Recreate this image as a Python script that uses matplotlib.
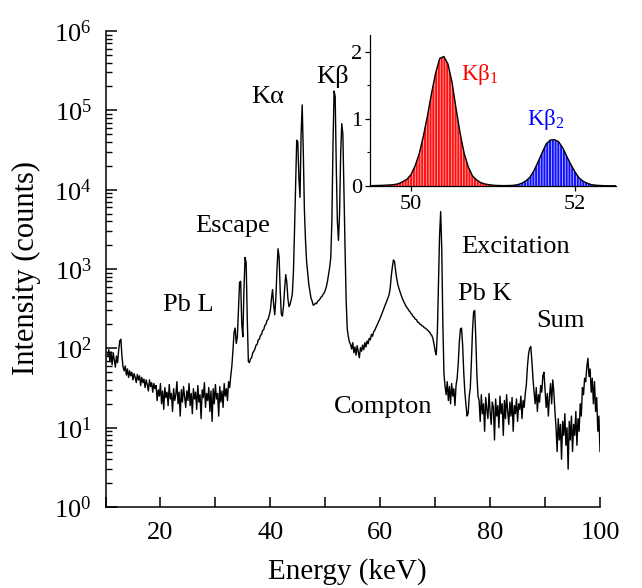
import numpy as np
import matplotlib
matplotlib.use("Agg")
import matplotlib.pyplot as plt
from matplotlib.ticker import LogLocator, FixedLocator, NullFormatter

# ---------------- data: main spectrum (0.2 keV grid from 10.4 keV) ----------------
E_START, E_STEP = 10.4, 0.2
counts_low = [82, 96, 68, 90, 62, 88, 72, 58, 80, 66,
              95, 125, 130, 78, 58, 52, 60, 46, 55, 43,
              52, 45, 50, 40, 48, 43, 37, 47, 40, 45,
              34, 43, 37, 41, 32, 40, 35, 29, 40, 33,
              37, 28, 36, 31]
counts_plateau = [34, 22, 30, 25, 36, 20, 29, 17, 32, 24,
                  28, 19, 35, 23, 27, 16, 31, 22, 26, 38,
                  20, 28, 14, 30, 21, 33, 24, 18, 29, 22,
                  36, 19, 27, 15, 31, 23, 28, 17, 34, 21,
                  26, 13, 30, 24, 37, 18, 27, 22, 32, 16,
                  29, 12, 31, 20, 35, 23, 27, 14, 33, 21,
                  29, 18, 36, 25, 31, 22, 38]
counts_escape = [32, 45, 60, 95, 160, 180, 115, 140, 320, 680,
                 700, 200, 140, 550, 1400, 1200, 240, 68]
counts_slope = [66, 74, 76, 88, 92, 98, 110, 112, 128, 130,
                146, 150, 168, 172, 195, 200, 225, 232, 262, 300]
counts_kalpha = [420, 550, 360, 265, 420, 950, 1800, 1400, 520, 270,
                 255, 340, 560, 850, 680, 420, 335, 360, 410, 480,
                 900, 3000, 12000, 42000, 40000, 14000, 8000, 50000, 117000, 30000,
                 5500, 2300, 1250, 880, 640, 520, 430, 395, 350]
counts_kbeta = [355, 370, 365, 390, 400, 415, 440, 450, 480, 500,
                540, 600, 700, 850, 1050, 1400, 4000, 35000, 175000, 150000,
                20000, 4000, 2300, 5000, 28000, 68000, 50000, 9000, 1800, 400,
                175, 140, 120]
counts_compton = [112, 98, 118, 88, 104, 82, 108, 90, 76, 102,
                  92, 110, 96, 118, 104, 124, 114, 134, 128, 150,
                  142, 162, 168, 182, 194, 208, 225, 240, 262, 285,
                  308, 338, 365, 395, 430, 470, 560, 800, 1050, 1300,
                  1250, 950, 760, 640, 570, 515, 470, 430, 398, 372,
                  350, 330, 318, 300, 290, 275, 266, 250, 246, 232,
                  230, 214, 212, 202, 200, 192, 190, 182, 180, 175,
                  170, 164, 160, 150, 145, 132, 112, 92, 83, 160,
                  650, 2600, 5300, 1800, 200, 48, 33]
counts_pbk = [26, 38, 22, 33, 20, 36, 25, 31, 19, 34,
              42, 65, 120, 175, 180, 110, 50, 28, 20, 14,
              15, 25, 32, 70, 170, 290, 300, 130, 45, 25]
counts_high = [22, 12, 26, 15, 20, 9, 24, 17, 13, 27,
               16, 11, 21, 18, 7, 23, 14, 19, 10, 25,
               15, 20, 8, 22, 13, 26, 16, 11, 21, 14,
               24, 9, 19, 15, 23, 12, 20, 17, 25, 13,
               22, 18, 27]
counts_sum = [35, 60, 85, 100, 105, 70, 42, 28, 20, 32,
              16, 26, 21, 34, 28, 45, 50, 30, 18, 27,
              14, 25, 36, 20, 40, 28, 16]
counts_tail = [10, 5, 13, 7, 11, 4, 12, 8, 15, 6,
               10, 3, 12, 7, 14, 5, 11, 8, 16, 6,
               13, 9, 20, 14, 32, 26, 42, 38, 58, 75,
               44, 55, 28, 42, 20, 38, 16, 24, 9, 14,
               5]

counts = np.array(counts_low + counts_plateau + counts_escape + counts_slope +
                  counts_kalpha + counts_kbeta + counts_compton + counts_pbk +
                  counts_high + counts_sum + counts_tail, dtype=float)
energy = np.round(E_START + E_STEP * np.arange(len(counts)), 2)

x_ticks = [20, 40, 60, 80, 100]
x_minor_ticks = [10, 30, 50, 70, 90]
y_ticks = [1e0, 1e1, 1e2, 1e3, 1e4, 1e5, 1e6]

# ---------------- data: inset (Kbeta1 / Kbeta2 profile) ----------------
inset_energy = np.round(49.5 + 0.05 * np.arange(61), 2)
inset_intensity = np.array([
    0.005, 0.006, 0.008, 0.010, 0.013, 0.016, 0.022, 0.035, 0.065, 0.10,
    0.17, 0.30, 0.48, 0.74, 1.04, 1.38, 1.68, 1.90, 1.93, 1.82,
    1.55, 1.15, 0.78, 0.48, 0.28, 0.15, 0.09, 0.05, 0.03, 0.02,
    0.012, 0.008, 0.006, 0.006, 0.007, 0.010, 0.020, 0.040, 0.075, 0.13,
    0.23, 0.36, 0.50, 0.63, 0.685, 0.69, 0.66, 0.57, 0.44, 0.32,
    0.21, 0.12, 0.07, 0.04, 0.02, 0.012, 0.008, 0.005, 0.004, 0.003,
    0.003])
split_energy = 51.15
inset_x_ticks = [50, 52]
inset_y_ticks = [0, 1, 2]
inset_y_minor = [0.5, 1.5]

peak_labels = ["Pb L", "Escape", "K\u03b1", "K\u03b2", "Excitation", "Pb K", "Sum", "Compton"]
peak_label_px = [(163, 310.7), (195, 232), (251.7, 102.7), (316.7, 83.3),
                 (461.7, 253.3), (458.3, 300), (536, 327), (334, 413)]

# ---------------- style ----------------
plt.rcParams.update({
    'font.family': ['Liberation Serif', 'DejaVu Serif'],
    'mathtext.fontset': 'custom',
    'mathtext.rm': 'Liberation Serif',
    'mathtext.it': 'Liberation Serif:italic',
    'mathtext.bf': 'Liberation Serif:bold',
    'mathtext.default': 'rm',
    'hatch.linewidth': 0.6,
})

W, H = 642, 588
fig = plt.figure(figsize=(W / 100, H / 100), dpi=100)


def fx(px):
    return px / W


def fy(py):
    return 1 - py / H


ax = fig.add_axes([fx(105.5), fy(507), (600 - 105.5) / W, (507 - 31) / H])
ax.plot(energy, counts, color='black', lw=1.0)
ax.set_yscale('log')
ax.set_xlim(10, 100)
ax.set_ylim(1, 1e6)
for s in ('top', 'right'):
    ax.spines[s].set_visible(False)
for s in ('left', 'bottom'):
    ax.spines[s].set_linewidth(1.1)
ax.xaxis.set_major_locator(FixedLocator(x_ticks))
ax.xaxis.set_minor_locator(FixedLocator(x_minor_ticks))
ax.yaxis.set_major_locator(FixedLocator(y_ticks))
ax.yaxis.set_minor_locator(LogLocator(base=10, subs=np.arange(2, 10), numticks=20))
ax.yaxis.set_minor_formatter(NullFormatter())
ax.tick_params(axis='x', which='both', direction='in', length=7, width=1.1,
               labelsize=19, pad=11, top=False)
ax.tick_params(axis='y', which='major', direction='in', length=8, width=1.1,
               labelsize=19, pad=10, right=False)
ax.tick_params(axis='y', which='minor', direction='in', length=4.3, width=1.0, right=False)

fig.text(fx(26), fy(268), 'Intensity (counts)', rotation=90, ha='center', va='center', fontsize=22)
fig.text(fx(347), fy(579), 'Energy (keV)', ha='center', va='baseline', fontsize=21)

for lab, (px, py) in zip(peak_labels, peak_label_px):
    fig.text(fx(px), fy(py), lab, ha='left', va='baseline', fontsize=19)

# ---------------- inset ----------------
ax2 = fig.add_axes([fx(370), fy(186), (616 - 370) / W, (186 - 35) / H])
ax2.patch.set_alpha(0)
red_mask = inset_energy <= split_energy
blue_mask = inset_energy >= split_energy
ax2.fill_between(inset_energy[red_mask], 0, inset_intensity[red_mask],
                 facecolor='#ff1010', edgecolor='#ffb0b0', hatch='||||||', linewidth=0)
ax2.fill_between(inset_energy[blue_mask], 0, inset_intensity[blue_mask],
                 facecolor='#1010ff', edgecolor='#c0c0ff', hatch='||||||', linewidth=0)
ax2.plot(inset_energy, inset_intensity, color='black', lw=1.0)
ax2.set_xlim(49.5, 52.5)
ax2.set_ylim(0, 2.25)
for s in ('top', 'right'):
    ax2.spines[s].set_visible(False)
for s in ('left', 'bottom'):
    ax2.spines[s].set_linewidth(0.9)
ax2.xaxis.set_major_locator(FixedLocator(inset_x_ticks))
ax2.yaxis.set_major_locator(FixedLocator(inset_y_ticks))
ax2.yaxis.set_minor_locator(FixedLocator(inset_y_minor))
ax2.tick_params(axis='both', which='major', direction='out', length=3.5, width=0.9,
                labelsize=16, pad=2)
ax2.tick_params(axis='y', which='minor', direction='out', length=2.2, width=0.8)
ax2.tick_params(axis='x', which='major', pad=3)

fig.text(fx(460.7), fy(80), 'K\u03b2$_1$', color='#ff0000', ha='left', va='baseline', fontsize=16.5)
fig.text(fx(526.7), fy(125), 'K\u03b2$_2$', color='#0000ff', ha='left', va='baseline', fontsize=16.5)

fig.savefig('out.png', dpi=100)
